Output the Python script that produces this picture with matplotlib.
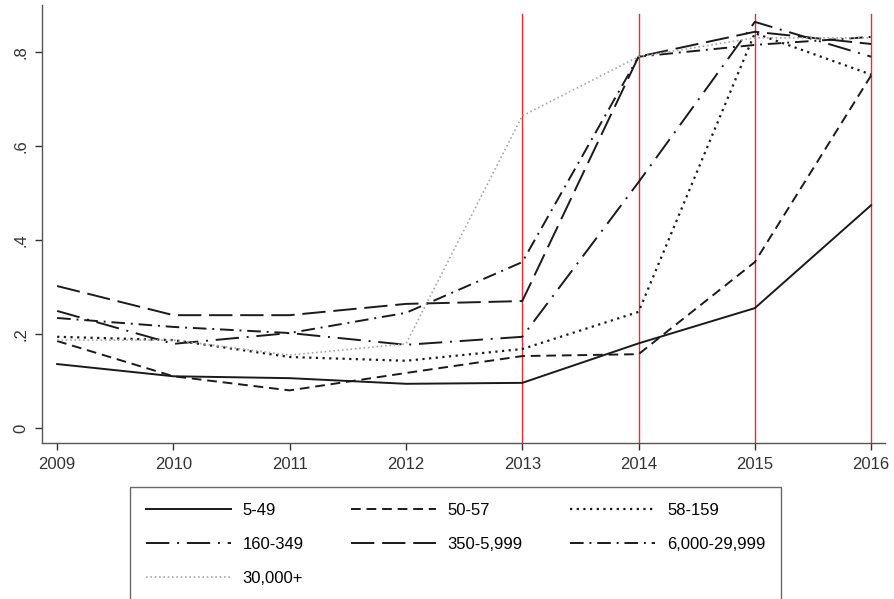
import matplotlib
matplotlib.use("Agg")
import matplotlib.pyplot as plt

years = [2009, 2010, 2011, 2012, 2013, 2014, 2015, 2016]
labels = ["5-49", "50-57", "58-159", "160-349", "350-5,999", "6,000-29,999", "30,000+"]
s_5_49 = [0.136, 0.110, 0.106, 0.094, 0.096, 0.180, 0.255, 0.474]
s_50_57 = [0.185, 0.110, 0.080, 0.117, 0.153, 0.157, 0.353, 0.750]
s_58_159 = [0.194, 0.187, 0.151, 0.143, 0.168, 0.247, 0.840, 0.752]
s_160_349 = [0.249, 0.179, 0.202, 0.177, 0.194, 0.523, 0.864, 0.790]
s_350_5999 = [0.302, 0.240, 0.240, 0.264, 0.270, 0.790, 0.843, 0.817]
s_6000_29999 = [0.234, 0.215, 0.202, 0.245, 0.353, 0.790, 0.815, 0.832]
s_30000 = [0.187, 0.187, 0.155, 0.179, 0.664, 0.790, 0.830, 0.830]
series = [s_5_49, s_50_57, s_58_159, s_160_349, s_350_5999, s_6000_29999, s_30000]
red_years = [2013, 2014, 2015, 2016]
yticks = [0, 0.2, 0.4, 0.6, 0.8]
ytick_labels = ["0", ".2", ".4", ".6", ".8"]

plt.rcParams['font.family'] = ['Liberation Sans', 'DejaVu Sans']

styles = [
    dict(color="#1a1a1a", lw=1.4, ls="-"),
    dict(color="#1a1a1a", lw=1.4, ls=(0, (5, 3))),
    dict(color="#1a1a1a", lw=1.6, ls=(0, (1, 2))),
    dict(color="#1a1a1a", lw=1.4, ls=(0, (12, 4, 1, 4))),
    dict(color="#1a1a1a", lw=1.4, ls=(0, (12, 4))),
    dict(color="#1a1a1a", lw=1.4, ls=(0, (7, 3, 1, 3))),
    dict(color="#a8a8a8", lw=1.2, ls=(0, (1, 1.6))),
]

fig = plt.figure(figsize=(8.94, 5.99), dpi=100)
ax = fig.add_axes([0.047, 0.2604, 0.943, 0.7313])

for yr in red_years:
    ax.plot([yr, yr], [-0.05, 0.88], color="#e0303a", lw=1.0, zorder=1)

handles = []
for vals, lab, st in zip(series, labels, styles):
    h, = ax.plot(years, vals, label=lab, zorder=2, **st)
    handles.append(h)

ax.set_xlim(2008.87, 2016.12)
ax.set_ylim(-0.032, 0.9)
ax.set_xticks(years)
ax.set_xticklabels([str(y) for y in years], fontsize=12)
ax.set_yticks(yticks)
ax.set_yticklabels(ytick_labels, fontsize=12, rotation=90, va="center")
for s in ["top", "right"]:
    ax.spines[s].set_visible(False)
for s in ["left", "bottom"]:
    ax.spines[s].set_color("#555555")
    ax.spines[s].set_linewidth(1.0)
ax.tick_params(direction="out", length=5, width=1, colors="#333333", pad=5)

# row-major legend order via column-major fill
order = [0, 3, 6, 1, 4, 2, 5]
leg = fig.legend(handles=[handles[i] for i in order], labels=[labels[i] for i in order],
                 ncol=3, loc="upper left",
                 bbox_to_anchor=(130 / 894, 1 - 487 / 599), fontsize=12,
                 frameon=True, fancybox=False, edgecolor="#444444",
                 handlelength=5.1, handletextpad=0.7, columnspacing=2.85,
                 labelspacing=1.15, borderpad=0.95, borderaxespad=0)
leg.get_frame().set_linewidth(1.0)

fig.savefig("out.png", dpi=100)
